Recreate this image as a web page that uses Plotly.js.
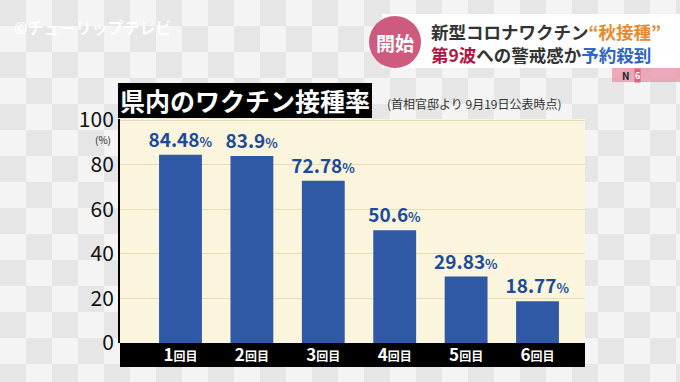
<!DOCTYPE html>
<html><head><meta charset="utf-8">
<script src="https://cdn.plot.ly/plotly-3.0.1.min.js"></script>
<style>html,body{margin:0;padding:0;background:#efefef;}#chart{width:680px;height:382px;}</style>
</head><body><div id="chart"></div>
<script>
const categories = ['1回目','2回目','3回目','4回目','5回目','6回目'];
const categoryNumbers = ['1','2','3','4','5','6'];
const rates = [84.48, 83.9, 72.78, 50.6, 29.83, 18.77];
const yTicks = [0, 20, 40, 60, 80, 100];
const chartTitle = '県内のワクチン接種率';
const chartSource = '(首相官邸より 9月19日公表時点)';
const unitLabel = '(%)';

const FONT = '"Noto Sans CJK JP", "Noto Sans", sans-serif';
const L = 120, R = 585, T = 119, B = 343;
const px = x => (x - L) / (R - L);
const py = y => (B - y) / (B - T);

const shapes = [];
// checker background
const cell = 26;
for (let r = 0; r * cell < 382; r++) {
  for (let c = 0; c * cell < 680; c++) {
    if ((r + c) % 2 === 0) {
      shapes.push({type:'rect', xref:'paper', yref:'paper', layer:'below',
        x0:px(c*cell), x1:px((c+1)*cell), y0:py(r*cell), y1:py((r+1)*cell),
        fillcolor:'#e6e6e6', line:{width:0}});
    }
  }
}
function rect(x0,y0,x1,y1,color){
  shapes.push({type:'rect', xref:'paper', yref:'paper', layer:'below',
    x0:px(x0), x1:px(x1), y0:py(y1), y1:py(y0), fillcolor:color, line:{width:0}});
}
rect(L, T, R, B, '#faf5dc');          // plot area
rect(L, B, R, 367, '#000000');        // category band
rect(118, 83, 372, 118, '#000000');   // title box
rect(382, 14, 680, 68, 'rgba(255,255,255,0.96)'); // header box
rect(612, 68, 680, 82, 'rgba(232,150,170,0.8)');
shapes.push({type:'circle', xref:'paper', yref:'paper', layer:'below',
  x0:px(369), x1:px(421), y0:py(68), y1:py(16), fillcolor:'#cf5a80', line:{width:0}});

function ann(text, x, y, opts){
  return Object.assign({xref:'paper', yref:'paper', x:px(x), y:py(y), text:text,
    showarrow:false, xanchor:'center', yanchor:'middle',
    font:{family:FONT, size:12, color:'#222'}}, opts||{});
}
const annotations = [
  ann('<b>©チューリップテレビ</b>', 93, 27, {font:{family:FONT, size:16, color:'rgba(255,255,255,0.95)'}}),
  ann('<b>開始</b>', 395, 42, {font:{family:FONT, size:19, color:'#ffffff'}}),
  ann('<b>新型コロナワクチン<span style="color:#e8892b">“秋接種”</span></b>', 429, 32,
      {xanchor:'left', font:{family:FONT, size:17.5, color:'#333333'}}),
  ann('<b><span style="color:#b3143e">第9波</span>への警戒感か<span style="color:#2f66c4">予約殺到</span></b>', 429, 55,
      {xanchor:'left', font:{family:FONT, size:17.5, color:'#333333'}}),
  ann('<b>N</b>', 626, 76, {font:{family:FONT, size:10, color:'#222'}}),
  ann('<b>6</b>', 637, 76, {font:{family:FONT, size:9, color:'#ffffff'}, bgcolor:'#e0607f', borderpad:0}),
  ann('<b>' + chartTitle + '</b>', 245, 100, {font:{family:FONT, size:25, color:'#ffffff'}}),
  ann(chartSource, 474, 103, {font:{family:FONT, size:12, color:'#333333'}}),
  ann(unitLabel, 103, 139, {font:{family:FONT, size:10, color:'#222'}})
];

const trace = {
  type:'bar', x:categories, y:rates, width:0.6,
  marker:{color:'#2f58a6', line:{width:0}},
  text: rates.map(v => '<b>' + v + '<span style="font-size:13px">%</span></b>'),
  textposition:'outside', cliponaxis:false, constraintext:'none',
  textfont:{family:FONT, size:19, color:'#1d4b9b'},
  hoverinfo:'none'
};

const layout = {
  width:680, height:382,
  margin:{l:L, r:680-R, t:T, b:382-B},
  paper_bgcolor:'#f4f4f4', plot_bgcolor:'rgba(0,0,0,0)',
  showlegend:false, bargap:0.4,
  xaxis:{type:'category', range:[-0.847, 5.665], tickvals:categories,
    ticktext: categoryNumbers.map(n => '<b>' + n + '<span style="font-size:12px">回目</span></b>'),
    tickfont:{family:FONT, size:17, color:'#ffffff'}, ticks:'', showline:false,
    showgrid:false, zeroline:false, fixedrange:true},
  yaxis:{range:[0, 100.5], tickvals:yTicks, ticktext:yTicks.map(String),
    tickfont:{family:FONT, size:21, color:'#111111'}, ticks:'', showgrid:true,
    gridcolor:'#e6dcb6', gridwidth:1, zeroline:false, showline:true,
    linecolor:'#000000', linewidth:2, fixedrange:true},
  shapes:shapes, annotations:annotations
};
Plotly.newPlot('chart', [trace], layout, {displayModeBar:false, staticPlot:true});
</script></body></html>
